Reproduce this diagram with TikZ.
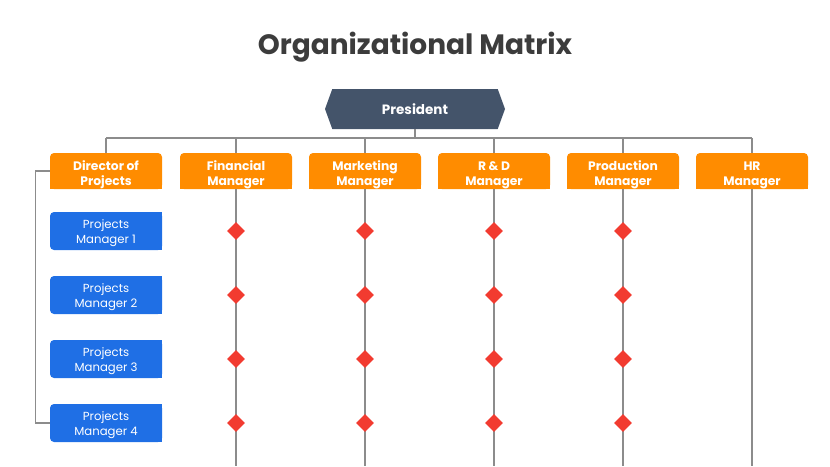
\documentclass[tikz,border=0pt]{standalone}
\usepackage{fontspec}
\setmainfont{Poppins}
\usetikzlibrary{shapes.geometric,shapes.symbols}
\definecolor{chiefslate}{HTML}{44546A}
\definecolor{headorange}{HTML}{FF8C00}
\definecolor{pmblue}{HTML}{1F6FE5}
\definecolor{crossred}{HTML}{F23B30}
\definecolor{linegray}{HTML}{8C8C8C}
\definecolor{titlegray}{HTML}{3C3C3C}
\newcommand{\headlift}{\rule{0pt}{16.5pt}}
\newcommand{\pmlift}{\rule{0pt}{13.5pt}}
\begin{document}
\begin{tikzpicture}[x = 1pt, y = -1pt,
		link/.style = {draw = linegray, line width = 1.2pt},
		head/.style = {fill = headorange, text = white, rounded corners = 4pt, minimum width = 112pt, minimum height = 36pt, inner sep = 0pt, align = center, font = \fontsize{12.3}{15}\selectfont\bfseries},
		pm/.style = {fill = pmblue, text = white, rounded corners = 4pt, minimum width = 112pt, minimum height = 38pt, inner sep = 0pt, align = center, font = \fontsize{11.7}{15}\selectfont},
		cross/.style = {diamond, fill = crossred, minimum size = 18pt, inner sep = 0pt}]
		\useasboundingbox (0,0) rectangle (830,466);
		\node[text = titlegray, font = \fontsize{28}{32}\selectfont\bfseries] (title) at (415,47) {Organizational Matrix};
		\node[signal, signal to = west and east, signal pointer angle = 140, fill = chiefslate, text = white, minimum width = 180pt, minimum height = 40pt, inner sep = 0pt, font = \fontsize{13.5}{16}\selectfont\bfseries] (pres) at (415,109) {President};
		\coordinate (bus) at (415,138);
		\draw[link] (pres) -- (bus);
		\foreach \x/\id/\t in {106/dir/{Director of\\Projects}, 236/fin/{Financial\\Manager}, 365/mkt/{Marketing\\Manager}, 494/rd/{R \& D\\Manager}, 623/prod/{Production\\Manager}, 752/hr/{HR\\Manager}}{
			\node[head] (\id) at (\x,171) {\headlift\t};
			\fill[headorange] (\id.south west) rectangle +(5,-5);
			\fill[headorange] (\id.south east) rectangle +(-5,-5);
			\coordinate (top\id) at (\x,138);
			\draw[link] (\id) -- (top\id);
			}
		\draw[link] (topdir) -- (tophr);
		\foreach \id in {fin,mkt,rd,prod,hr}{
			\coordinate (foot\id) at (\id |- 0,466);
			\draw[link] (\id) -- (foot\id);
			}
		\foreach \y/\k in {231/1, 295/2, 359/3, 423/4}{
			\node[pm] (pm\k) at (106,\y) {\pmlift Projects\\Manager \k};
			\fill[pmblue] (pm\k.north east) rectangle +(-5,5);
			\fill[pmblue] (pm\k.south east) rectangle +(-5,-5);
			\foreach \c in {fin,mkt,rd,prod}
				\node[cross] (\c\k) at (\c |- pm\k) {};
			}
		\draw[link] (dir.west) -- ++(-14,0) |- (pm4.west);
\end{tikzpicture}
\end{document}
